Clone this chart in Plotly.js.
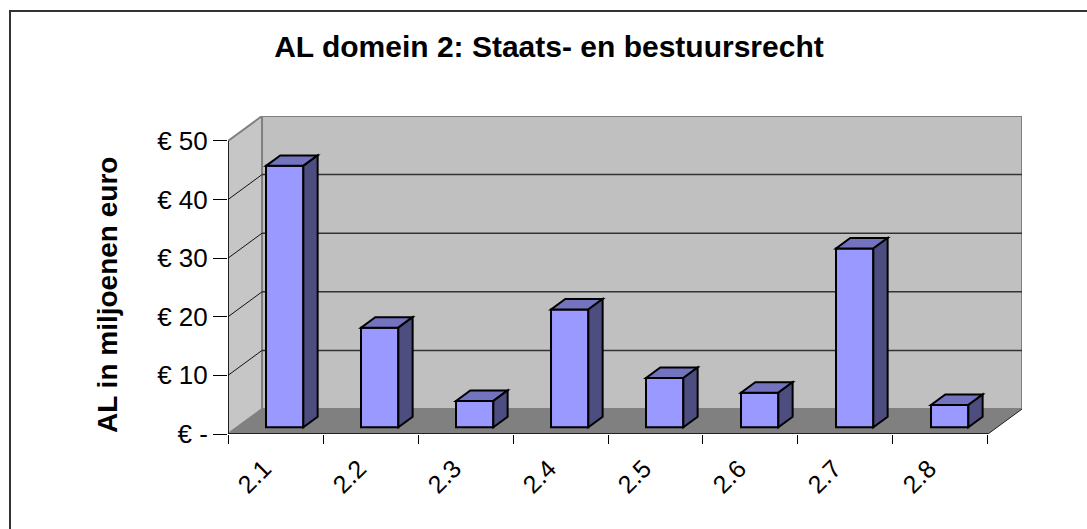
<!DOCTYPE html>
<html>
<head>
<meta charset="utf-8">
<script src="https://cdn.plot.ly/plotly-3.0.1.min.js"></script>
<style>
  html, body { margin: 0; padding: 0; background: #fff; }
  #wrap { position: relative; width: 1087px; height: 529px; overflow: hidden; }
  #chart { width: 1087px; height: 529px; }
  #frame { position: absolute; left: 9px; top: 10px; width: 2000px; height: 2000px;
           border-left: 2px solid #333; border-top: 2px solid #333; pointer-events: none; }
</style>
</head>
<body>
<div id="wrap"><div id="chart"></div><div id="frame"></div></div>
<script>
// ---- data ----
const categories = ['2.1', '2.2', '2.3', '2.4', '2.5', '2.6', '2.7', '2.8'];
const values = [44.6, 17.0, 4.5, 20.1, 8.4, 5.9, 30.5, 3.8];
const yTickVals = [0, 10, 20, 30, 40, 50];
const yTickText = ['€ -', '€ 10', '€ 20', '€ 30', '€ 40', '€ 50'];
const chartTitle = 'AL domein 2: Staats- en bestuursrecht';
const yTitle = 'AL in miljoenen euro';

// ---- 3D look (styling) ----
const DX = 0.358;   // depth offset along x (category units)
const DY = 4.26;    // depth offset along y (value units)
const F1 = 0.27;    // bar front depth fraction
const FB = 0.42;    // bar depth fraction
const BAR_W = 0.393;
const BAR_OFF = F1 * DX - BAR_W / 2;
const YMAX = yTickVals[yTickVals.length - 1];
const n = categories.length;
const xs = categories.map((c, i) => i);
const base = F1 * DY;
const ddx = FB * DX, ddy = FB * DY;

const COL_FRONT = '#9999FF', COL_TOP = '#7373C0', COL_SIDE = '#4D4D80';
const WALL = '#C0C0C0', LWALL = '#C6C6C6', FLOOR = '#808080', EDGE = '#808080';

const shapes = [];
const x0 = -0.5, x1 = n - 0.5;
// back wall
shapes.push({type: 'path', layer: 'below', xref: 'x', yref: 'y',
  path: `M${x0 + DX},${DY} L${x1 + DX},${DY} L${x1 + DX},${YMAX + DY} L${x0 + DX},${YMAX + DY} Z`,
  fillcolor: WALL, line: {color: EDGE, width: 2}});
// left wall
shapes.push({type: 'path', layer: 'below', xref: 'x', yref: 'y',
  path: `M${x0},0 L${x0 + DX},${DY} L${x0 + DX},${YMAX + DY} L${x0},${YMAX} Z`,
  fillcolor: LWALL, line: {color: EDGE, width: 2}});
// floor
shapes.push({type: 'path', layer: 'below', xref: 'x', yref: 'y',
  path: `M${x0},0 L${x1},0 L${x1 + DX},${DY} L${x0 + DX},${DY} Z`,
  fillcolor: FLOOR, line: {width: 0}});
// gridlines on back & left walls
yTickVals.forEach(v => {
  if (v === 0 || v === YMAX) return;
  shapes.push({type: 'line', layer: 'below', xref: 'x', yref: 'y',
    x0: x0 + DX, x1: x1 + DX, y0: v + DY, y1: v + DY, line: {color: '#333', width: 1.5}});
  shapes.push({type: 'line', layer: 'below', xref: 'x', yref: 'y',
    x0: x0, x1: x0 + DX, y0: v, y1: v + DY, line: {color: '#111', width: 1}});
});
// floor edges & front axis lines
shapes.push({type: 'line', layer: 'below', xref: 'x', yref: 'y',
  x0: x1, x1: x1 + DX, y0: 0, y1: DY, line: {color: '#222', width: 1}});
shapes.push({type: 'line', layer: 'below', xref: 'x', yref: 'y',
  x0: x0, x1: x1, y0: 0, y1: 0, line: {color: '#000', width: 1.5}});
shapes.push({type: 'line', layer: 'below', xref: 'x', yref: 'y',
  x0: x0, x1: x0, y0: 0, y1: YMAX, line: {color: '#000', width: 1.5}});

// bar tops & sides
values.forEach((v, i) => {
  const L = xs[i] + BAR_OFF, R = L + BAR_W, T = base + v;
  shapes.push({type: 'path', layer: 'above', xref: 'x', yref: 'y',
    path: `M${L},${T} L${R},${T} L${R + ddx},${T + ddy} L${L + ddx},${T + ddy} Z`,
    fillcolor: COL_TOP, line: {color: '#000', width: 2}});
  shapes.push({type: 'path', layer: 'above', xref: 'x', yref: 'y',
    path: `M${R},${base} L${R + ddx},${base + ddy} L${R + ddx},${T + ddy} L${R},${T} Z`,
    fillcolor: COL_SIDE, line: {color: '#000', width: 2}});
});

const boundaries = [];
const bText = [];
for (let i = 0; i <= n; i++) { boundaries.push(i - 0.5); bText.push(i < n ? categories[i] : ''); }

const trace = {
  type: 'bar', x: xs, y: values, base: values.map(() => base),
  width: BAR_W, offset: BAR_OFF,
  marker: {color: COL_FRONT, line: {color: '#000', width: 2}},
  text: categories, hovertemplate: '%{text}: € %{y}<extra></extra>', textposition: 'none'
};

const FONT = '"Liberation Sans", Arial, sans-serif';
const layout = {
  width: 1087, height: 529,
  margin: {l: 228, r: 65, t: 116, b: 95, pad: 0},
  paper_bgcolor: '#fff', plot_bgcolor: 'rgba(0,0,0,0)',
  font: {family: FONT, color: '#000'},
  showlegend: false,
  title: {text: chartTitle, font: {size: 30, weight: 'bold', family: FONT, color: '#000'},
          x: 0.505, xanchor: 'center', xref: 'container', y: 0.912, yanchor: 'middle'},
  xaxis: {type: 'linear', range: [x0, x1 + DX], tickvals: boundaries, ticktext: bText,
          ticks: 'outside', ticklen: 9, tickwidth: 1, tickcolor: '#000',
          ticklabelshift: 36, tickangle: -45, tickfont: {size: 25},
          showgrid: false, zeroline: false, showline: false, fixedrange: true},
  yaxis: {type: 'linear', range: [0, YMAX + DY], tickvals: yTickVals, ticktext: yTickText,
          ticks: 'outside', ticklen: 14, tickwidth: 1, tickcolor: '#000',
          tickfont: {size: 26}, showgrid: false, zeroline: false, showline: false, fixedrange: true},
  annotations: [{text: '<b>' + yTitle + '</b>', textangle: -90, showarrow: false,
          xref: 'paper', yref: 'paper', x: (107 - 228) / 794, y: (434 - 295) / 318,
          xanchor: 'center', yanchor: 'middle', font: {size: 28, family: FONT, color: '#000'}}],
  shapes: shapes
};

Plotly.newPlot('chart', [trace], layout, {displayModeBar: false, staticPlot: true});
</script>
</body>
</html>
